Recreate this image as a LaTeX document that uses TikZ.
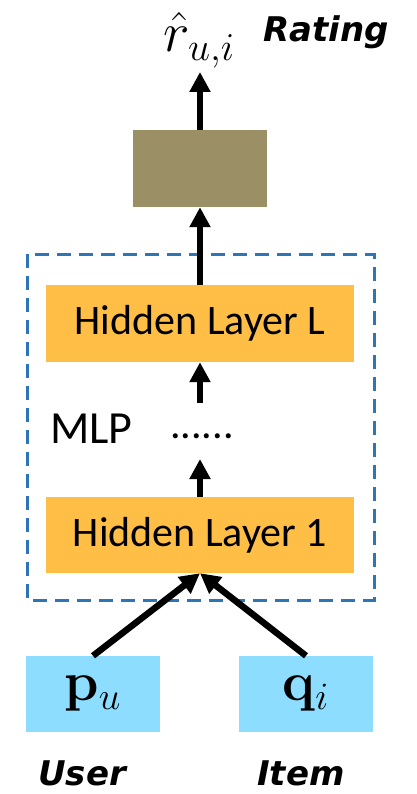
\RequirePackage{fix-cm}
\documentclass[tikz,border=0pt]{standalone}
\usepackage[no-math]{fontspec}
\setmainfont{Carlito}
\newfontfamily\tagfont{DejaVu Sans}
\usepackage{xcolor}
\usetikzlibrary{arrows.meta}

\definecolor{predColor}{HTML}{9A8F65}
\definecolor{hiddenColor}{HTML}{FFBF47}
\definecolor{embColor}{HTML}{8CDDFF}
\definecolor{mlpBlue}{HTML}{2E75B6}

\begin{document}
\begin{tikzpicture}
[
	x=1pt, y=-1pt,
	box/.style={rectangle, inner sep=0pt, minimum width=308pt, minimum height=77pt},
	hidden/.style={box, fill=hiddenColor, font=\fontsize{42}{48}\selectfont},
	emb/.style={box, fill=embColor, minimum width=134pt, minimum height=76pt, font=\fontsize{24}{28}\selectfont},
	tag/.style={anchor=base west, inner sep=0pt, font=\tagfont\bfseries\itshape\fontsize{34}{40}\selectfont},
	flow/.style={line width=6.5pt, -{Triangle[width=20pt,length=20pt]}},
	mlpLine/.style={color=mlpBlue, line width=3pt, dash pattern=on 14pt off 8pt}
]

\def\bigmath#1#2{\scalebox{#1}{$#2$}}

\useasboundingbox (0,0) rectangle (416,794);

% Draw MLP border
\draw[mlpLine] (27,254) rectangle (374,600);

% Draw layers
\node[box, fill=predColor, minimum width=134pt] (pred) at (200,168.5) {};
\node[hidden] (hidL) at (200,323.5) {Hidden Layer L};
\node[hidden, minimum height=76pt] (hid1) at (200,535) {Hidden Layer 1};
\node[emb] (pu) at (93,694) {\bigmath{2.3}{\mathbf{p}_u}};
\node[emb] (qi) at (306,694) {\bigmath{2.3}{\mathbf{q}_i}};

% Draw texts
\node[anchor=base west, inner sep=0pt, font=\fontsize{24}{28}\selectfont] (rhat) at (163,52) {\bigmath{2.35}{\hat{r}_{u,i}}};
\node[tag] (rating) at (263,42) {Rating};
\node[tag] (user) at (38,785) {User};
\node[tag] (item) at (257,785) {Item};
\node[anchor=base west, inner sep=0pt, font=\fontsize{46}{52}\selectfont] (mlp) at (50,443) {MLP};
\node[anchor=base west, inner sep=0pt, font=\fontsize{42}{48}\selectfont] (dots) at (170,438) {......};

% Free ends
\coordinate (out) at (200,72);
\coordinate (m1) at (200,403);
\coordinate (m2) at (200,459);

% Draw arrows
\draw[flow] (pred.north) -- (out);
\draw[flow] (hidL.north) -- (pred.south);
\draw[flow] (m1) -- (hidL.south);
\draw[flow] (hid1.north) -- (m2);
\draw[flow] (pu.north) -- (hid1.south);
\draw[flow] (qi.north) -- (hid1.south);

\end{tikzpicture}
\end{document}
